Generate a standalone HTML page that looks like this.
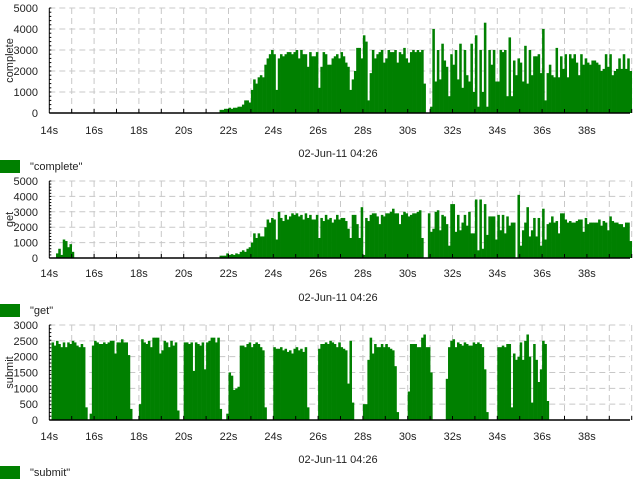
<!DOCTYPE html>
<html><head><meta charset="utf-8"><style>
html,body{margin:0;padding:0;background:#fff;width:640px;height:480px;overflow:hidden}
svg text{font-family:"Liberation Sans",sans-serif;font-size:11px;fill:#222}
</style></head><body>
<svg id="chart" width="640" height="480" xmlns="http://www.w3.org/2000/svg"></svg>
<script>
const binStart = 14.0, binWidth = 0.1;
const xTickLabels = ["14s","16s","18s","20s","22s","24s","26s","28s","30s","32s","34s","36s","38s"];
const xTickValues = [14,16,18,20,22,24,26,28,30,32,34,36,38];
const dateLabel = "02-Jun-11 04:26";

const completeValues = [
0,0,0,0,0,0,0,0,0,0, 0,0,0,0,0,0,0,0,0,0, 0,0,0,0,0,0,0,0,0,0, 0,0,0,0,0,0,0,0,0,0,
0,0,0,0,0,0,0,0,0,0, 0,0,0,0,0,0,0,0,0,0, 0,0,0,0,0,0,0,0,0,0, 0,0,0,0,0,0,
150,150,200,200,250,200,250,250,300,300,400,600,600,500,
1100,1600,1400,1700,1800,1700,2300,2600,2800,3000,
2800,1100,2600,2800,2700,2800,2900,2900,2800,2900,
3000,2600,3000,2800,2800,2200,2900,2700,2700,2900,
1200,2200,2900,2800,2300,2300,2600,2700,2800,2600,
2900,2700,2400,2200,1100,1600,2000,3100,3100,2600,
3700,3400,600,1900,3000,2600,2800,2900,3000,2400,
2600,3000,2900,2900,3000,2400,2900,2800,3100,2600,
2400,2900,3000,2900,3000,2900,3000,1400,0,0,
300,4000,1500,3000,1600,3300,2500,2200,800,2800,
2300,3000,1600,3300,1200,3000,1800,1500,3300,1000,
3700,300,3000,1000,4300,300,3000,2300,3000,1500,
1500,3000,2900,3000,800,3600,800,2500,1800,2600,
2400,1500,3200,1400,3000,1800,2700,2700,2800,1900,
4000,600,1900,2300,1800,1700,3100,1700,2700,2100,
2800,1700,2800,2600,2800,2400,1800,2800,2300,2600,
2400,2300,2500,2500,2400,2300,2000,2100,2800,2200,
2800,1800,2000,2100,2600,2100,2800,2100,2600,2000];

const getValues = [
0,0,0,300,600,200,1200,1100,700,900, 400,0,0,0,0,0,0,0,0,0,
0,0,0,0,0,0,0,0,0,0, 0,0,0,0,0,0,0,0,0,0, 0,0,0,0,0,0,0,0,0,0,
0,0,0,0,0,0,0,0,0,0, 0,0,0,0,0,0,0,0,0,0, 0,0,0,0,0,0,
150,150,150,300,200,250,200,300,250,400,500,400,600,700,
1000,1600,1300,1600,1400,1400,2000,2500,2300,2600,
2500,1200,3000,2600,2400,2800,2500,2700,2900,2800,
2900,2700,2800,2500,2900,2600,2800,2500,2500,2800,
1300,2600,2400,2800,2500,2600,2300,2500,2800,2500,
2600,2600,2400,1900,1300,2800,2800,2200,1300,3300,
200,2600,2400,2800,2900,2900,2700,2200,2800,2700,
2900,2900,3000,3200,2900,2900,2200,2800,3000,2900,
2700,2800,2900,2900,3000,3100,1300,0,0,2900,
1700,1900,3000,3100,1800,2800,2700,2200,800,3500,
3500,1700,2800,1800,2300,2800,2100,3000,1600,1600,
3800,500,3800,600,3500,1500,2700,2700,2700,1200,
2800,1800,2800,1600,2700,2100,2300,2300,0,4100,
800,1800,2300,3300,1400,1800,2600,1400,2600,800,
3200,1200,2200,2300,2700,2300,2400,1600,2900,2900,
2500,2300,2400,2300,2300,2400,2500,2500,1700,2600,
2200,2300,2300,2300,2300,2500,2100,2400,2300,1800,
2700,2400,2300,2300,2200,2200,2000,2300,2300,1100];

const submitValues = [
0,
2450,2350,2500,2400,2300,2450,2300,2450,2400,2500,2450,2350,2300,2400,2300,
400,0,200,
2350,2500,2450,2400,2400,2450,2400,2450,2500,2500,2100,2450,2450,2550,2450,2450,2050,
350,0,0,0,
500,
2550,2450,2400,2500,2300,2600,2600,2600,2100,2200,2500,2450,2300,2500,2350,2450,
300,0,0,
2450,2450,2400,2450,1550,2450,2400,2350,2450,1600,2450,2500,2600,2600,2450,2600,
350,0,0,200,
1500,1400,950,1000,1050,
2350,2350,2300,2400,2450,2300,2400,2450,2400,2300,2200,
400,0,0,0,
2300,2250,2250,2300,2200,2250,2150,2200,2100,2250,2300,2200,2250,2150,2300,
400,0,0,0,0,
2250,2400,2400,2450,2400,2500,2450,2400,2300,2450,
2300,2250,2200,1150,2500,550,
0,0,0,0,
500,500,
1900,2600,2100,2400,2300,2300,2400,2300,2400,2300,2250,2200,
1700,250,
0,0,0,0,
900,
2400,2400,2400,2300,2300,2600,2700,2300,2300,
1500,
0,0,0,0,0,0,
1300,
2300,2500,2550,2300,2450,2400,2350,2450,2400,2350,2350,2450,2400,2450,2400,2300,
1600,250,
0,0,0,0,
2300,2300,2350,2300,2400,2400,
400,2100,1900,2000,2450,1900,2500,2700,2000,550,2400,1900,1200,1600,2500,2400,600];

const completeTicks = [0,1000,2000,3000,4000,5000];
const getTicks = [0,1000,2000,3000,4000,5000];
const submitTicks = [0,500,1000,1500,2000,2500,3000];

const panels = [
  {name:"complete", values:completeValues, ticks:completeTicks, max:5000, top:8, bottom:113, xlab:130, date:153, leg:160},
  {name:"get", values:getValues, ticks:getTicks, max:5000, top:181, bottom:258, xlab:273, date:297, leg:304},
  {name:"submit", values:submitValues, ticks:submitTicks, max:3000, top:325, bottom:420, xlab:436, date:459, leg:466}
];

const svg = document.getElementById('chart');
const NS = "http://www.w3.org/2000/svg";
const X0 = 49.3, X1 = 630, PXS = 22.4;
function xScale(t){ return X0 + (t - 14) * PXS; }
function mk(tag, attrs, parent){ const e = document.createElementNS(NS, tag); for (const k in attrs) e.setAttribute(k, attrs[k]); parent.appendChild(e); return e; }

panels.forEach(p => {
  const g = mk('g', {}, svg);
  
  
  const yScale = v => p.bottom - v / p.max * (p.bottom - p.top);
  // grid
  for (let s = 15; s <= 40; s++) {
    const gl = mk('line', {x1:xScale(s), x2:xScale(s), y1:p.top, y2:p.bottom, stroke:'#c8c8c8', 'stroke-dasharray':'6,4'}, g);
    
    
  }
  p.ticks.forEach(v => {
    if (v === 0) return;
    const gl = mk('line', {x1:X0, x2:X1, y1:yScale(v), y2:yScale(v), stroke:'#c8c8c8', 'stroke-dasharray':'6,4'}, g);
    
    
  });
  // bars
  p.values.forEach((v, i) => {
    if (v <= 0) return;
    const t = binStart + i * binWidth;
    const x = xScale(t), w = xScale(t + binWidth) - x;
    const r = mk('rect', {x:x, y:yScale(v), width:w + 0.3, height:p.bottom - yScale(v), fill:'#008000'}, g);
    
    
  });
  // axes
  const ya = mk('line', {x1:X0, x2:X0, y1:p.top, y2:p.bottom, stroke:'#000'}, g);
  
  
  const xa = mk('line', {x1:X0, x2:X1, y1:p.bottom, y2:p.bottom, stroke:'#000', 'stroke-width':1.5}, g);
  
  
  const minor = p.max / 25;
  for (let v = 0; v <= p.max; v += minor) {
    mk('line', {x1:X0, x2:X0 + 2, y1:yScale(v), y2:yScale(v), stroke:'#000'}, g);
  }
  for (let s = 15; s <= 40; s++) {
    mk('line', {x1:xScale(s), x2:xScale(s), y1:p.bottom, y2:p.bottom - 4, stroke:'#000'}, g);
  }
  p.ticks.forEach(v => {
    const tl = mk('text', {x:38, y:yScale(v) + 4, 'text-anchor':'end'}, g);
    tl.textContent = v;
    
    
  });
  xTickValues.forEach((s, i) => {
    const tl = mk('text', {x:xScale(s), y:p.xlab + 4, 'text-anchor':'middle'}, g);
    tl.textContent = xTickLabels[i];
    
    
  });
  const cy = (p.top + p.bottom) / 2;
  const yt = mk('text', {x:0, y:0, 'text-anchor':'middle', transform:`translate(13,${cy}) rotate(-90)`}, g);
  yt.textContent = p.name;
  
  
  const dt = mk('text', {x:338, y:p.date + 4, 'text-anchor':'middle'}, g);
  dt.textContent = dateLabel;
  
  
  const sw = mk('rect', {x:0, y:p.leg, width:20, height:13, fill:'#008000'}, g);
  
  
  const lt = mk('text', {x:30, y:p.leg + 10}, g);
  lt.textContent = '"' + p.name + '"';
  
  
});
</script>
</body></html>
